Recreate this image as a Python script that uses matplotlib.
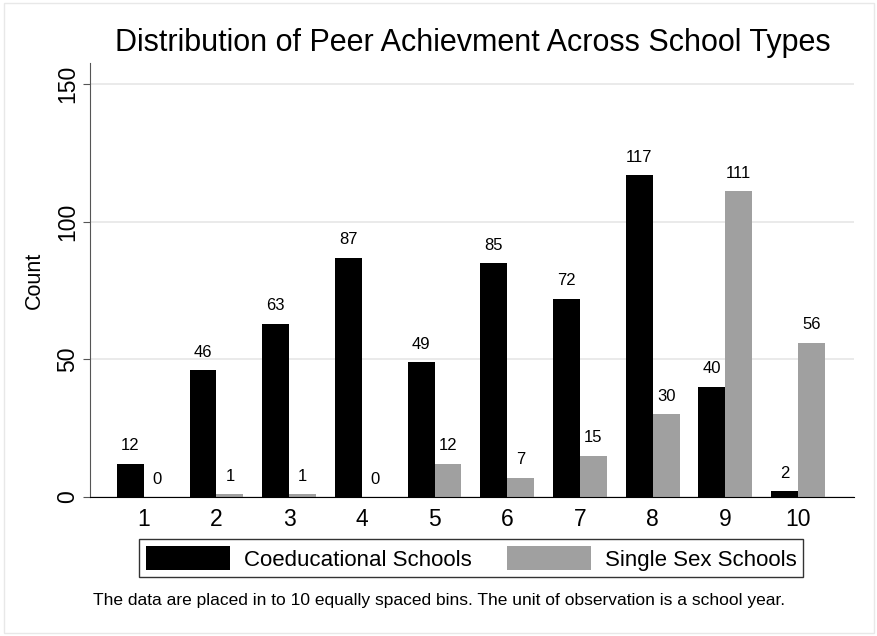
import matplotlib.pyplot as plt
import numpy as np
from matplotlib.patches import Rectangle

plt.rcParams['font.family'] = ['Liberation Sans', 'DejaVu Sans']

# data
bins = [1, 2, 3, 4, 5, 6, 7, 8, 9, 10]
coed = [12, 46, 63, 87, 49, 85, 72, 117, 40, 2]
single = [0, 1, 1, 0, 12, 7, 15, 30, 111, 56]

fig = plt.figure(figsize=(8.78, 6.36), dpi=100)
ax = fig.add_axes([0.1025, 0.2186, 0.8702, 0.6824])

x = np.array(bins)
w = 0.37
b1 = ax.bar(x - w / 2, coed, w, color='black', label='Coeducational Schools')
b2 = ax.bar(x + w / 2, single, w, color='#a0a0a0', label='Single Sex Schools')

for xi, v in zip(x, coed):
    ax.text(xi - w / 2, v + 3.8, str(v), ha='center', va='bottom', fontsize=12)
for xi, v in zip(x, single):
    ax.text(xi + w / 2, v + 3.8, str(v), ha='center', va='bottom', fontsize=12)

ax.set_xlim(0.26, 10.77)
ax.set_ylim(0, 157.7)
ax.set_xticks(bins)
ax.set_xticklabels([str(b) for b in bins], fontsize=16.5)
ax.set_yticks([0, 50, 100, 150])
ax.set_yticklabels(['0', '50', '100', '150'], fontsize=16.5, rotation=90, va='center')
ax.tick_params(axis='x', length=0, pad=8)
ax.tick_params(axis='y', length=5, width=0.8, color='#555555', pad=3)
ax.yaxis.grid(True, color='#e6e6e6', linewidth=1.2)
ax.set_axisbelow(True)
for s in ['top', 'right']:
    ax.spines[s].set_visible(False)
ax.spines['left'].set_color('#555555')
ax.spines['bottom'].set_color('black')
ax.set_ylabel('Count', fontsize=15.5, labelpad=8)

fig.text(0.539, 0.932, 'Distribution of Peer Achievment Across School Types',
         ha='center', va='center', fontsize=22)

leg = fig.legend(handles=[b1, b2], loc='center', bbox_to_anchor=(0.5365, 0.122),
                 ncol=2, fontsize=16, frameon=True, fancybox=False,
                 edgecolor='black', handlelength=3.8, handleheight=1.3,
                 handletextpad=0.6, columnspacing=1.6, borderpad=0.3)
leg.get_frame().set_linewidth(1.0)

fig.text(0.5, 0.056, 'The data are placed in to 10 equally spaced bins. '
         'The unit of observation is a school year.',
         ha='center', va='center', fontsize=12.5)

fig.patches.append(Rectangle((0.004, 0.004), 0.992, 0.992, transform=fig.transFigure,
                             fill=False, edgecolor='#e8e8e8', linewidth=1))

fig.savefig('out.png', dpi=100)
